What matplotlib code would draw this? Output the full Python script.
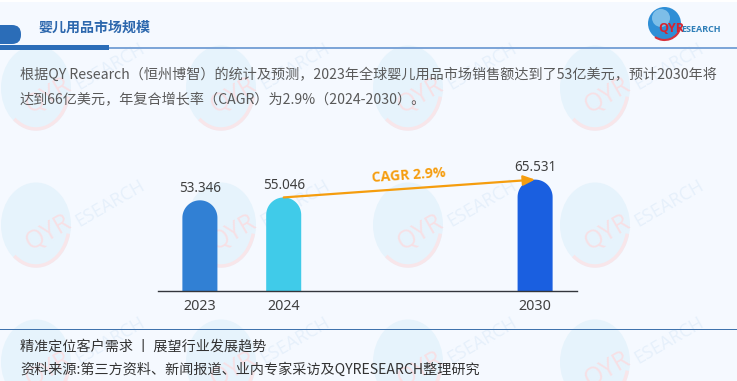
"""QYResearch market size slide: baby products."""

import matplotlib
matplotlib.use("Agg")
import matplotlib.pyplot as plt
import numpy as np
from matplotlib.patches import Arc, Circle, Ellipse, FancyBboxPatch, PathPatch, Rectangle
from matplotlib.path import Path

plt.rcParams["font.family"] = ["Noto Sans CJK SC", "DejaVu Sans"]

W, H = 737, 381

# data
years = ["2023", "2024", "2030"]
slots = [0, 1, 4]
values = [53.346, 55.046, 65.531]
bar_colors = ["#3180d4", "#40cbe9", "#1a5fe0"]
cagr_label = "CAGR 2.9%"

title = "婴儿用品市场规模"
body_lines = [
    "根据QY Research（恒州博智）的统计及预测，2023年全球婴儿用品市场销售额达到了53亿美元，预计2030年将",
    "达到66亿美元，年复合增长率（CAGR）为2.9%（2024-2030）。",
]
footer_lines = [
    "精准定位客户需求 丨 展望行业发展趋势",
    "资料来源:第三方资料、新闻报道、业内专家采访及QYRESEARCH整理研究",
]
mark_xs = [36, 221, 408, 595]
mark_ys = [88, 225, 362]


def px(size):
    # font size in pixels -> points at dpi 100
    return size * 0.72


def rounded_bar(ax, x, height, width, color, px_x, px_y):
    # bar with a semicircular top, radius is half the width in screen pixels
    rx = width / 2
    ry = rx * px_x / px_y
    t = np.linspace(np.pi, 0, 40)
    xs = np.r_[x - rx, x + rx * np.cos(t), x + rx, x - rx]
    ys = np.r_[0, height - ry + ry * np.sin(t), 0, 0]
    ax.add_patch(PathPatch(Path(np.c_[xs, ys]), facecolor=color, edgecolor="none", zorder=2))


def watermark(ax, cx, cy):
    ax.add_patch(Ellipse((cx, cy), 70, 85, facecolor="#e6f3fc", edgecolor="none", zorder=1))
    ax.add_patch(Arc((cx, cy), 66, 82, theta1=15, theta2=125, color="#f8e6ea", lw=2.5, zorder=1))
    ax.text(cx + 12, cy + 8, "QYR", color="#f7e0e5", fontsize=px(25), rotation=30,
            ha="center", va="center", family="Open Sans", zorder=1, clip_on=True)
    ax.text(cx + 74, cy - 22, "ESEARCH", color="#e6f0fb", fontsize=px(18), rotation=30,
            ha="center", va="center", family="Open Sans", zorder=1, clip_on=True)


fig = plt.figure(figsize=(W / 100, H / 100), dpi=100, facecolor="#f5f9ff")

# page layer in pixel coordinates
bg = fig.add_axes([0, 0, 1, 1])
bg.set_xlim(0, W)
bg.set_ylim(H, 0)
bg.axis("off")
bg.add_patch(Rectangle((0, 0), W, 2, facecolor="#ffffff", edgecolor="none"))

for my in mark_ys:
    for mx in mark_xs:
        watermark(bg, mx, my)

# header
bg.add_patch(FancyBboxPatch((-20, 25), 41, 19, boxstyle="round,pad=0,rounding_size=9",
                            facecolor="#2b6db8", edgecolor="none", zorder=3))
bg.add_patch(Rectangle((0, 45), 109, 5, facecolor="#2b6db8", edgecolor="none", zorder=3))
bg.add_patch(Rectangle((109, 46.5), W - 109, 2, facecolor="#7ea6d8", edgecolor="none", zorder=3))
bg.text(38, 28, title, color="#2c67ad", fontsize=px(14), weight="bold", va="center", zorder=4)

# logo
bg.add_patch(Circle((664.5, 23.5), 16.5, facecolor="#2f8fd6", edgecolor="none", zorder=3))
bg.add_patch(Circle((661, 18), 9, facecolor="#9fd3f0", edgecolor="none", alpha=0.7, zorder=3))
bg.add_patch(Arc((664.5, 23.5), 33, 33, theta1=15, theta2=125, color="#d8323c", lw=1.5, zorder=4))
bg.text(658, 29, "QYR", color="#d8232e", fontsize=px(12.5), weight="bold", va="center",
        family="Open Sans", zorder=5)
bg.text(681, 29.5, "ESEARCH", color="#2f7fb8", fontsize=px(9), weight="bold", va="center",
        family="Open Sans", zorder=5)

# body text
bg.text(20, 75, body_lines[0], color="#595959", fontsize=px(14.1), va="center", zorder=4)
bg.text(20, 100, body_lines[1], color="#595959", fontsize=px(14.1), va="center", zorder=4)

# footer
bg.add_patch(Rectangle((0, 328.5), W, 1.2, facecolor="#3f73ad", edgecolor="none", zorder=3))
bg.text(20, 347, footer_lines[0], color="#333333", fontsize=px(14.1), va="center", zorder=4)
bg.text(20, 370, footer_lines[1], color="#333333", fontsize=px(14.1), va="center", zorder=4)

# chart layer: axis runs 158-577 px, baseline at y=291, 1.7 px per unit
ax_left, ax_right, base_y, unit_px = 158, 577, 291, 1.7
ymax = 70
ax = fig.add_axes([ax_left / W, (H - base_y) / H, (ax_right - ax_left) / W, ymax * unit_px / H])
ax.patch.set_alpha(0)
ax.set_xlim(-0.5, 4.5)
ax.set_ylim(0, ymax)
bar_width = 0.418
slot_px = (ax_right - ax_left) / 5

for s, v, c in zip(slots, values, bar_colors):
    rounded_bar(ax, s, v, bar_width, c, slot_px, unit_px)
    ax.annotate(f"{v:.3f}", (s, v), xytext=(0, 3), textcoords="offset points", ha="center",
                va="bottom", color="#404040", fontsize=px(13.5), family="Noto Sans", zorder=5)

for side in ["top", "left", "right"]:
    ax.spines[side].set_visible(False)
ax.spines["bottom"].set_color("#33363c")
ax.spines["bottom"].set_linewidth(1.0)
ax.set_yticks([])
ax.set_xticks(slots, years, color="#404040", fontsize=px(14.3), family="Noto Sans")
ax.tick_params(axis="x", length=0, pad=5.5)

# CAGR arrow from the 2024 bar top to the 2030 bar top
ax.annotate("", xy=(slots[2], values[2]), xytext=(slots[1], values[1]),
            arrowprops=dict(arrowstyle="-|>,head_length=0.7,head_width=0.3", color="#f59d0e",
                            lw=1.6, shrinkA=0, shrinkB=0), zorder=6)
ax.text(2.49, 68, cagr_label, color="#f59d0e", fontsize=px(14), weight="bold", rotation=4,
        ha="center", va="center", family="Open Sans", zorder=6)

fig.savefig("out.png", dpi=100, facecolor=fig.get_facecolor())
